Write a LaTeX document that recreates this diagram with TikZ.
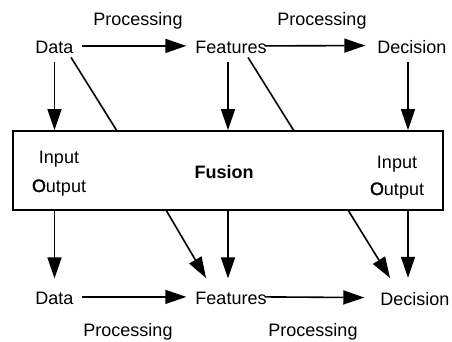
\documentclass[tikz,border=0pt]{standalone}
\usepackage{fontspec}
\setmainfont{Liberation Sans}
\newfontface\heavyO[FakeBold=1.5]{Liberation Sans}
\usetikzlibrary{arrows.meta}
\begin{document}
\begin{tikzpicture}[x=1pt,y=-1pt,
  lbl/.style={inner sep=0pt,anchor=base,font=\fontsize{18}{21}\selectfont},
  boldlbl/.style={lbl,font=\fontsize{18}{21}\selectfont\bfseries},
  wire/.style={line width=1.6pt},
  arr/.style={wire,-{Triangle[length=21pt,width=14pt]}},
  fusionbox/.style={draw,line width=1.8pt,inner sep=0pt,minimum width=430pt,minimum height=79pt}
]
\useasboundingbox (0,0) rectangle (452,341);

% central fusion block
\node[fusionbox] (box) at (228,170.5) {};
\node[boldlbl] (fusT) at (224,178) {Fusion};
\node[lbl] (inL)  at (59,163) {Input};
\node[lbl] (outL) at (59,192) {{\heavyO O}utput};
\node[lbl] (inR)  at (397,168) {Input};
\node[lbl] (outR) at (397,195) {{\heavyO O}utput};

% upper chain
\node[lbl] (dT) at (54.5,53) {Data};
\node[lbl] (fT) at (231,53) {Features};
\node[lbl] (cT) at (412,53) {Decision};
\node[lbl] (pT1) at (138,25) {Processing};
\node[lbl] (pT2) at (322,25) {Processing};

% lower chain
\node[lbl] (dB) at (54.5,304) {Data};
\node[lbl] (fB) at (231,304) {Features};
\node[lbl] (cB) at (415,305) {Decision};
\node[lbl] (pB1) at (128,336) {Processing};
\node[lbl] (pB2) at (313,336) {Processing};

% points where connectors meet the block
\coordinate (dTin)  at (117,131);
\coordinate (fTin)  at (294,131);
\coordinate (dBout) at (166,210);
\coordinate (fBout) at (348,210);

% upper processing arrows
\draw[arr] ([xshift=8pt,yshift=1pt]dT.east) -- ([xshift=-9pt,yshift=1pt]fT.west);
\draw[arr] ([xshift=-2pt,yshift=1pt]fT.east) -- ([xshift=-12pt,yshift=1pt]cT.west);

% upper chain into the block
\draw[arr] ([yshift=-9pt]dT.south) -- (dT.south |- box.north);
\draw[arr] ([xshift=-3pt,yshift=-9pt]fT.south) -- ([xshift=-3pt]fT.south |- box.north);
\draw[arr] ([xshift=-4pt,yshift=-9pt]cT.south) -- ([xshift=-4pt]cT.south |- box.north);
\draw[wire] ([xshift=16.5pt,yshift=-4pt]dT.south) -- (dTin);
\draw[wire] ([xshift=17pt,yshift=-4pt]fT.south) -- (fTin);

% block out to the lower chain
\draw[arr] (dB.north |- box.south) -- ([yshift=13pt]dB.north);
\draw[arr] ([xshift=-3pt]fB.north |- box.south) -- ([xshift=-3pt,yshift=13pt]fB.north);
\draw[arr] ([xshift=-7pt]cB.north |- box.south) -- ([xshift=-7pt,yshift=14pt]cB.north);
\draw[arr] (dBout) -- (206,278);
\draw[arr] (fBout) -- (390,278);

% lower processing arrows
\draw[arr] ([xshift=8pt,yshift=1pt]dB.east) -- ([xshift=-9pt,yshift=1pt]fB.west);
\draw[arr] ([xshift=-2pt,yshift=1pt]fB.east) -- ([xshift=-16pt,yshift=1pt]cB.west);
\end{tikzpicture}
\end{document}
